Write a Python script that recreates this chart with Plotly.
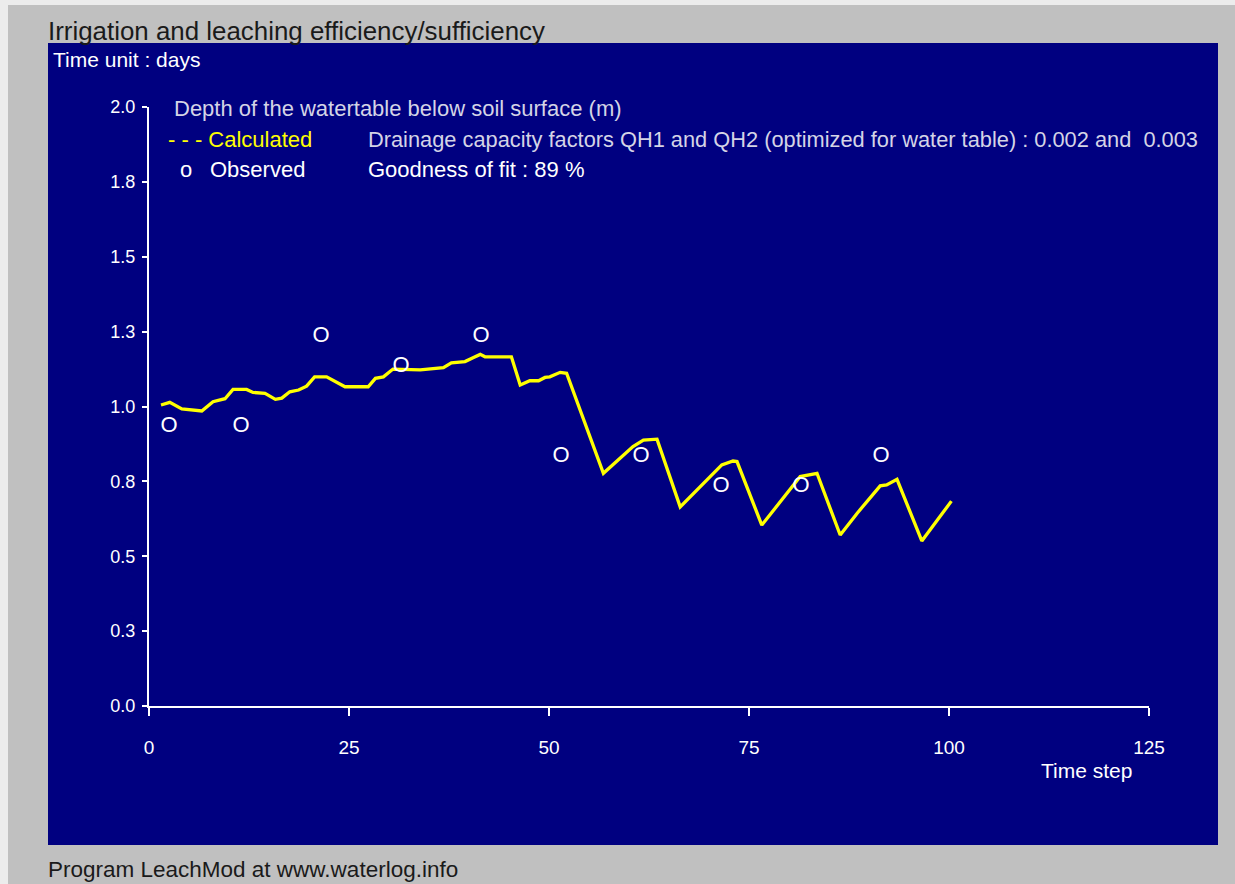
import plotly.graph_objects as go

# Calculated watertable depth (m) per time step (days)
calc_step = [1.5, 2.6, 4.1, 5.5, 6.6, 8.0, 9.5, 10.5, 12.2, 13.0,
             14.5, 15.8, 16.6, 17.6, 18.7, 19.7, 20.7, 22.2, 22.8, 24.5,
             27.4, 28.3, 29.3, 30.5, 33.9, 36.8, 37.8, 39.5, 40.5, 41.4,
             42.0, 45.3, 46.4, 47.6, 48.7, 49.5, 50.1, 51.4, 52.2, 56.8,
             60.5, 61.8, 63.5, 66.4, 71.6, 73.0, 73.5, 76.6, 81.4, 83.5,
             86.4, 88.5, 91.4, 92.2, 93.5, 96.6, 100.3]
calc_depth = [1.005, 1.014, 0.992, 0.988, 0.985, 1.016, 1.026, 1.057, 1.057, 1.047,
              1.044, 1.024, 1.028, 1.049, 1.055, 1.068, 1.099, 1.099, 1.091, 1.066,
              1.066, 1.094, 1.099, 1.125, 1.122, 1.130, 1.146, 1.150, 1.163, 1.174,
              1.166, 1.166, 1.072, 1.086, 1.086, 1.097, 1.099, 1.114, 1.111, 0.777,
              0.866, 0.888, 0.891, 0.665, 0.805, 0.818, 0.816, 0.604, 0.766, 0.777,
              0.571, 0.643, 0.735, 0.738, 0.757, 0.551, 0.684]

# Observed watertable depth (m)
obs_step = [2.5, 11.5, 21.5, 31.5, 41.5, 51.5, 61.5, 71.5, 81.5, 91.5]
obs_depth = [0.933, 0.933, 1.233, 1.133, 1.233, 0.832, 0.832, 0.732, 0.732, 0.832]

y_tick_vals = [0.0, 0.25, 0.5, 0.75, 1.0, 1.25, 1.5, 1.75, 2.0]
y_tick_text = ["0.0", "0.3", "0.5", "0.8", "1.0", "1.3", "1.5", "1.8", "2.0"]
x_tick_vals = [0, 25, 50, 75, 100, 125]
x_tick_text = ["0", "25", "50", "75", "100", "125"]

W, H = 1235, 884
L, R, T, B = 149, 86, 107, 178
PW, PH = W - L - R, H - T - B


def px(x):
    return (x - L) / PW


def py(y):
    return (H - B - y) / PH


FONT = "Arial, Liberation Sans, sans-serif"
NAVY = "#000080"

fig = go.Figure()

fig.add_trace(go.Scatter(
    x=calc_step, y=calc_depth, mode="lines",
    line=dict(color="#ffff00", width=3.3), hoverinfo="skip", showlegend=False,
))
fig.add_trace(go.Scatter(
    x=obs_step, y=obs_depth, mode="text", text=["O"] * len(obs_step),
    textfont=dict(family=FONT, size=22, color="#ffffff"),
    textposition="middle center", showlegend=False,
))

shapes = [
    # light window edge along the left and top borders
    dict(type="rect", xref="paper", yref="paper",
         x0=px(0), x1=px(8), y0=py(884), y1=py(0),
         fillcolor="#ececec", line=dict(width=0), layer="below"),
    dict(type="rect", xref="paper", yref="paper",
         x0=px(0), x1=px(1235), y0=py(5), y1=py(0),
         fillcolor="#ececec", line=dict(width=0), layer="below"),
    dict(type="rect", xref="paper", yref="paper",
         x0=px(48), x1=px(1218), y0=py(845), y1=py(43),
         fillcolor=NAVY, line=dict(width=0), layer="below"),
]

ann = []


def text(x, y, s, size, color, anchor="left"):
    ann.append(dict(xref="paper", yref="paper", x=px(x), y=py(y), text=s,
                    showarrow=False, xanchor=anchor, yanchor="middle",
                    font=dict(family=FONT, size=size, color=color)))


text(46, 31, "Irrigation and leaching efficiency/sufficiency", 25.9, "#1a1a1a")
text(51, 59, "Time unit : days", 21, "#ffffff")
text(46, 869, "Program LeachMod at www.waterlog.info", 22.5, "#1a1a1a")
text(1086, 770, "Time step", 21, "#ffffff", "center")
text(172, 108, "Depth of the watertable below soil surface (m)", 22, "#d4d4e6")
text(166, 139, "- - - Calculated", 22, "#ffff00")
text(178, 169, "o", 22, "#ffffff")
text(208, 169, "Observed", 22, "#ffffff")
text(366, 139, "Drainage capacity factors QH1 and QH2 (optimized for water table) : 0.002 and  0.003",
     21.8, "#d4d4e6")
text(366, 169, "Goodness of fit : 89 %", 22, "#ffffff")

fig.update_layout(
    width=W, height=H,
    margin=dict(l=L, r=R, t=T, b=B),
    paper_bgcolor="#c0c0c0", plot_bgcolor=NAVY,
    shapes=shapes, annotations=ann,
    xaxis=dict(range=[0, 125], tickvals=x_tick_vals, ticktext=x_tick_text,
               showgrid=False, zeroline=False, showline=True, linecolor="#ffffff",
               linewidth=2, ticks="outside", ticklen=8, tickwidth=2, tickcolor="#ffffff",
               ticklabelstandoff=15,
               tickfont=dict(family=FONT, size=19, color="#ffffff"), fixedrange=True),
    yaxis=dict(range=[0, 2], tickvals=y_tick_vals, ticktext=y_tick_text,
               showgrid=False, zeroline=False, showline=True, linecolor="#ffffff",
               linewidth=2, ticks="outside", ticklen=5, tickwidth=2, tickcolor="#ffffff",
               ticklabelstandoff=3,
               tickfont=dict(family=FONT, size=18, color="#ffffff"), fixedrange=True),
)

fig.write_html("out.html")
